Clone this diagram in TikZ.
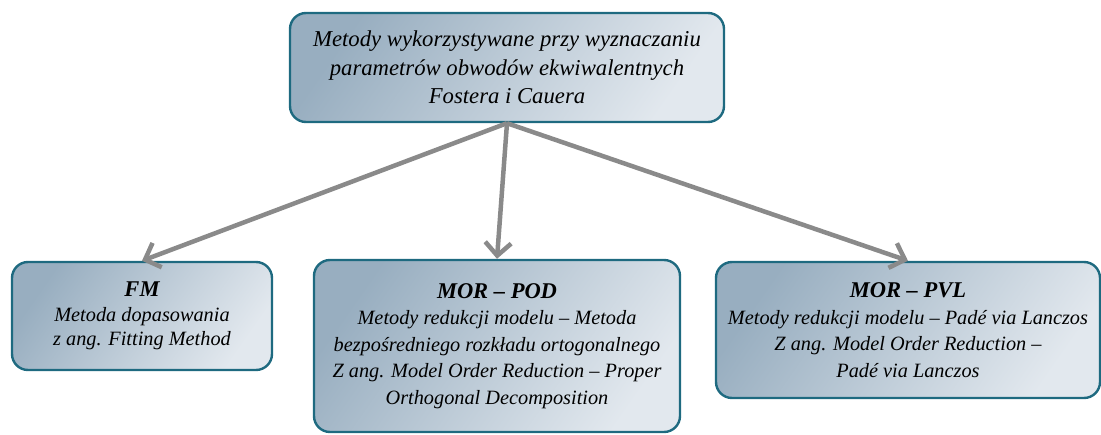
\documentclass[tikz,border=0pt]{standalone}
\usepackage{fontspec}
\setmainfont{Liberation Serif}
\usetikzlibrary{arrows.meta}
\definecolor{boxedge}{HTML}{1E6A80}
\definecolor{shadedark}{HTML}{98AEC0}
\definecolor{shadelight}{HTML}{E2E8EE}
\definecolor{arrowgray}{HTML}{8A8A8A}
\tikzset{
  x=1pt, y=-1pt,
  methodbox/.style={draw=boxedge, line width=2.4pt, rounded corners=16pt,
    top color=shadedark, bottom color=shadelight, shading angle=55,
    align=center, inner sep=0pt, font=\itshape},
  link/.style={draw=arrowgray, line width=4.5pt,
    -{Straight Barb[length=13pt, width=26pt, line width=4.5pt]}}
}
\begin{document}
\begin{tikzpicture}
\useasboundingbox (0,0) rectangle (1101,434);

\node[methodbox, minimum width=434pt, minimum height=109pt,
      font=\itshape\fontsize{22.7}{28.5}\selectfont] (top) at (507,67.5)
  {Metody wykorzystywane przy wyznaczaniu\\parametrów obwodów ekwiwalentnych\\Fostera i Cauera};

\node[methodbox, minimum width=260pt, minimum height=108pt,
      font=\itshape\fontsize{20.3}{24.5}\selectfont] (fm) at (142,316)
  {{\bfseries\fontsize{22.5}{27}\selectfont FM}\\Metoda dopasowania\\z ang. Fitting Method};

\node[methodbox, minimum width=366pt, minimum height=172pt,
      font=\itshape\fontsize{20.3}{26.5}\selectfont] (pod) at (497,346)
  {{\bfseries\fontsize{22.5}{27}\selectfont MOR – POD}\\Metody redukcji modelu – Metoda\\bezpośredniego rozkładu ortogonalnego\\Z ang. Model Order Reduction – Proper\\Orthogonal Decomposition};

\node[methodbox, minimum width=384pt, minimum height=136pt,
      font=\itshape\fontsize{20.3}{26.5}\selectfont] (pvl) at (908,330)
  {{\bfseries\fontsize{22.5}{27}\selectfont MOR – PVL}\\Metody redukcji modelu – Padé via Lanczos\\Z ang. Model Order Reduction –\\Padé via Lanczos};

\draw[link] (top.south) -- (fm.north);
\draw[link] (top.south) -- (pod.north);
\draw[link] (top.south) -- (pvl.north);
\end{tikzpicture}
\end{document}
